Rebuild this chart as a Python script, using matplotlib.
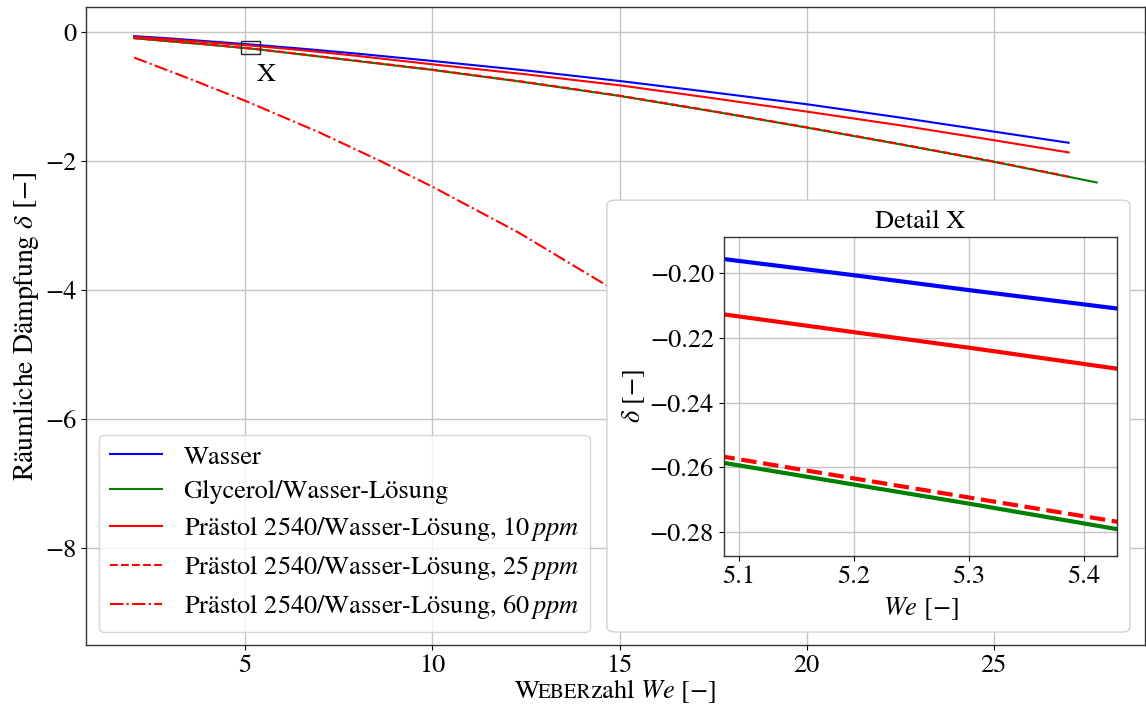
import numpy as np
import matplotlib
matplotlib.use("Agg")
import matplotlib.pyplot as plt
from matplotlib.patches import Rectangle, FancyBboxPatch
from matplotlib.offsetbox import TextArea, HPacker, AnchoredOffsetbox

plt.rcParams["font.family"] = ["STIXGeneral", "DejaVu Serif"]
plt.rcParams["mathtext.fontset"] = "stix"
plt.rcParams["font.size"] = 19

# Weberzahl und räumliche Dämpfung je Fluid
we_wasser = [2.03, 3.0, 4.0, 5.087, 5.2, 5.3, 5.429, 6.5, 8.0, 10.0, 12.5, 15.0, 17.5, 20.0, 22.5, 25.0, 27.0]
d_wasser = [-0.068, -0.105, -0.148, -0.1956, -0.2006, -0.2052, -0.2109, -0.262, -0.34, -0.453,
            -0.60, -0.763, -0.94, -1.123, -1.33, -1.547, -1.72]

we_glycerol = [2.03, 3.0, 4.0, 5.087, 5.2, 5.3, 5.429, 6.5, 8.0, 10.0, 12.5, 15.0, 17.5, 20.0, 22.5, 25.0, 27.75]
d_glycerol = [-0.10, -0.15, -0.20, -0.2586, -0.2653, -0.2712, -0.2791, -0.352, -0.455, -0.592,
              -0.785, -0.995, -1.235, -1.485, -1.745, -2.015, -2.335]

we_p10 = [2.03, 3.0, 4.0, 5.087, 5.2, 5.3, 5.429, 6.5, 8.0, 10.0, 12.5, 15.0, 17.5, 20.0, 22.5, 25.0, 27.0]
d_p10 = [-0.08, -0.12, -0.165, -0.2127, -0.2182, -0.2230, -0.2295, -0.285, -0.375, -0.505,
         -0.66, -0.83, -1.03, -1.237, -1.45, -1.68, -1.87]

we_p25 = [2.03, 3.0, 4.0, 5.087, 5.2, 5.3, 5.429, 6.5, 8.0, 10.0, 12.5, 15.0, 17.5, 20.0, 22.5, 25.0, 27.0]
d_p25 = [-0.10, -0.148, -0.198, -0.2567, -0.2634, -0.2693, -0.2768, -0.349, -0.451, -0.588,
         -0.78, -0.99, -1.23, -1.48, -1.74, -2.01, -2.245]

we_p60 = [2.03, 3.5, 5.0, 7.0, 8.6, 10.0, 12.3, 14.6, 16.0, 18.0, 20.0, 22.0, 24.0, 26.0, 27.0]
d_p60 = [-0.40, -0.726, -1.07, -1.565, -2.00, -2.40, -3.11, -3.91, -4.42, -5.19, -6.00, -6.86, -7.74, -8.60, -9.05]

series = [
    (we_wasser, d_wasser, "blue", "-", "Wasser"),
    (we_glycerol, d_glycerol, "green", "-", "Glycerol/Wasser-Lösung"),
    (we_p10, d_p10, "red", "-", r"Prästol 2540/Wasser-Lösung, 10$\,ppm$"),
    (we_p25, d_p25, "red", "--", r"Prästol 2540/Wasser-Lösung, 25$\,ppm$"),
    (we_p60, d_p60, "red", "-.", r"Prästol 2540/Wasser-Lösung, 60$\,ppm$"),
]

# Ausschnitt für Detail X
detail_xlim = (5.087, 5.429)
detail_ylim = (-0.2873, -0.1887)
box_x, box_y, box_w, box_h = 4.9, -0.345, 0.5, 0.2

fig = plt.figure(figsize=(11.46, 7.10), dpi=100)
ax = fig.add_axes([0.075, 0.0915, 0.924, 0.8985])

for x, y, c, ls, lab in series:
    ax.plot(x, y, color=c, linestyle=ls, linewidth=1.5, label=lab)

ax.grid(True, color="#c4c4c4", linewidth=1.0)
ax.set_axisbelow(True)
ax.tick_params(axis="x", pad=3)
for s in ax.spines.values():
    s.set_color("0.2")
    s.set_linewidth(1.0)

ax.set_ylabel("Räumliche Dämpfung $\\delta$ [−]", fontsize=20, labelpad=3)

ax.add_patch(Rectangle((box_x, box_y), box_w, box_h, fill=False,
                       edgecolor="0.15", linewidth=1.0, zorder=5))
ax.text(box_x + box_w + 0.16, box_y - 0.33, "X", ha="center", va="center")

leg = ax.legend(loc="lower left", fancybox=True, framealpha=0.8, edgecolor="0.8",
                labelspacing=0.38)

# x-Achsenbeschriftung mit Kapitälchen
xl = HPacker(children=[TextArea("W", textprops=dict(fontsize=19)),
                       TextArea("EBER", textprops=dict(fontsize=15)),
                       TextArea("zahl $We$ [−]", textprops=dict(fontsize=19))],
             align="baseline", pad=0, sep=-1)
ab = AnchoredOffsetbox(loc="upper center", child=xl, frameon=False, pad=0, borderpad=0,
                       bbox_to_anchor=(0.5, -0.051), bbox_transform=ax.transAxes)
ax.add_artist(ab)

# Rahmen hinter dem Detailfenster
frame = FancyBboxPatch((0.492, 0.0204), 0.494, 0.677, transform=ax.transAxes,
                       boxstyle="round,pad=0,rounding_size=0.008",
                       facecolor="white", edgecolor="0.82", linewidth=1.0,
                       zorder=4, clip_on=False)
ax.add_patch(frame)

axi = fig.add_axes([0.6315, 0.2173, 0.3435, 0.4493])
for x, y, c, ls, lab in series:
    axi.plot(x, y, color=c, linestyle=ls, linewidth=3)
axi.set_xlim(*detail_xlim)
axi.set_ylim(*detail_ylim)
axi.set_xticks([5.1, 5.2, 5.3, 5.4])
axi.set_yticks([-0.28, -0.26, -0.24, -0.22, -0.20])
axi.grid(True, color="#c4c4c4", linewidth=1.0)
for s in axi.spines.values():
    s.set_color("0.2")
    s.set_linewidth(1.0)
axi.set_title("Detail X", fontsize=19)
axi.set_xlabel("$We$ [−]")
axi.set_ylabel("$\\delta$ [−]", labelpad=2)

fig.savefig("out.png", dpi=100)
